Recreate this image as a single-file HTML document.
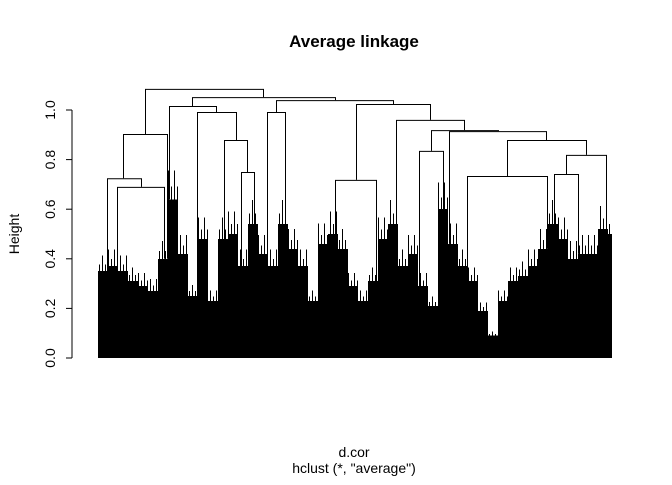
<!DOCTYPE html>
<html><head><meta charset="utf-8"><style>
body{margin:0;background:#fff}
svg text{font-family:"Liberation Sans",Arial,sans-serif}
</style></head><body>
<svg id="chart" width="672" height="480" viewBox="0 0 672 480" xmlns="http://www.w3.org/2000/svg">
<rect width="672" height="480" fill="#fff"/>
<text x="354" y="47" text-anchor="middle" font-size="17" font-weight="bold">Average linkage</text>
<text x="354" y="457" text-anchor="middle" font-size="14">d.cor</text>
<text x="354" y="473" text-anchor="middle" font-size="14">hclust (*, "average")</text>
<text transform="translate(19,234) rotate(-90)" text-anchor="middle" font-size="14">Height</text>
<g id="axis"></g>
<g id="mass" shape-rendering="crispEdges"></g>
<g id="tree"></g>
</svg>
<script>
const yTicks = [0, 0.2, 0.4, 0.6, 0.8, 1.0];
const yTickLabels = ["0.0", "0.2", "0.4", "0.6", "0.8", "1.0"];
// leaf-order positions (0..514) of merge legs, and merge heights
const nodeXL = [47, 25, 9, 19, 94, 71, 99, 126, 143, 178, 169, 258, 237, 298, 333, 321, 351, 409, 369, 468, 456];
const nodeXR = [165, 69, 43, 66, 237, 118, 138, 149, 156, 295, 187, 332, 278, 366, 400, 345, 448, 488, 449, 508, 480];
const nodeH = [1.085, 0.903, 0.725, 0.690, 1.052, 1.016, 0.992, 0.879, 0.750, 1.040, 0.992, 1.024, 0.718, 0.960, 0.919, 0.835, 0.915, 0.879, 0.734, 0.819, 0.742];
// envelope of the dense leaf mass, one value per 10-unit segment
const massH = [0.35, 0.37, 0.35, 0.31, 0.29, 0.27, 0.40, 0.64, 0.42, 0.25, 0.48, 0.23, 0.48, 0.50, 0.37, 0.54, 0.42, 0.37, 0.54, 0.44, 0.37, 0.23, 0.46, 0.50, 0.44, 0.29, 0.23, 0.31, 0.48, 0.54, 0.37, 0.42, 0.29, 0.21, 0.60, 0.46, 0.37, 0.31, 0.19, 0.09, 0.23, 0.31, 0.33, 0.37, 0.44, 0.54, 0.48, 0.40, 0.42, 0.42, 0.52, 0.50];

const NS = "http://www.w3.org/2000/svg";
const y = v => 358 - v * 248;
const x = p => 98 + p;
function mk(tag, attrs, parent) {
  const e = document.createElementNS(NS, tag);
  for (const k in attrs) e.setAttribute(k, attrs[k]);
  parent.appendChild(e);
  return e;
}
const axis = document.getElementById('axis');
let l = mk('line', {x1: 72, x2: 72, y1: y(0), y2: y(1.0), stroke: '#000'}, axis);


yTicks.forEach((t, i) => {
  const tk = mk('line', {x1: 66, x2: 72, y1: y(t), y2: y(t), stroke: '#000'}, axis);
  
  
  const tx = mk('text', {transform: `translate(55,${y(t)}) rotate(-90)`, 'text-anchor': 'middle', 'font-size': 14}, axis);
  tx.textContent = yTickLabels[i];
  
  
});

function env(p) {
  const i = Math.max(0, Math.min(massH.length - 1, Math.floor(p / 10)));
  return massH[i];
}
const mass = document.getElementById('mass');
let pts = [[x(0), y(0)]];
massH.forEach((h, i) => {
  const p0 = i * 10, p1 = Math.min(514, i * 10 + 10);
  pts.push([x(p0), y(h)]); pts.push([x(p1), y(h)]);
});
pts.push([x(514), y(0)]);
const poly = mk('polygon', {points: pts.map(p => p.join(',')).join(' '), fill: '#000'}, mass);


for (let p = 1; p <= 513; p += 3) {
  const h = env(p) * ((p % 2) === 0 ? 1.18 : 1.08);
  const ln = mk('rect', {x: x(p), y: y(h), width: 1, height: y(0) - y(h), fill: '#000'}, mass);
  
  
}

const tree = document.getElementById('tree');
function legBottom(px, h) {
  let best = null;
  nodeH.forEach((nh, j) => {
    const c = (nodeXL[j] + nodeXR[j]) / 2;
    if (Math.abs(c - px) < 2.6 && nh < h && (best === null || nh > best)) best = nh;
  });
  return best === null ? env(px) : best;
}
nodeH.forEach((h, i) => {
  const xl = nodeXL[i], xr = nodeXR[i];
  const bl = legBottom(xl, h), br = legBottom(xr, h);
  const d = `M${x(xl)+0.5},${y(bl)}V${y(h)+0.5}H${x(xr)+0.5}V${y(br)}`;
  const pa = mk('path', {d: d, fill: 'none', stroke: '#000', 'stroke-width': 1}, tree);
  
  
});
</script>
</body></html>
